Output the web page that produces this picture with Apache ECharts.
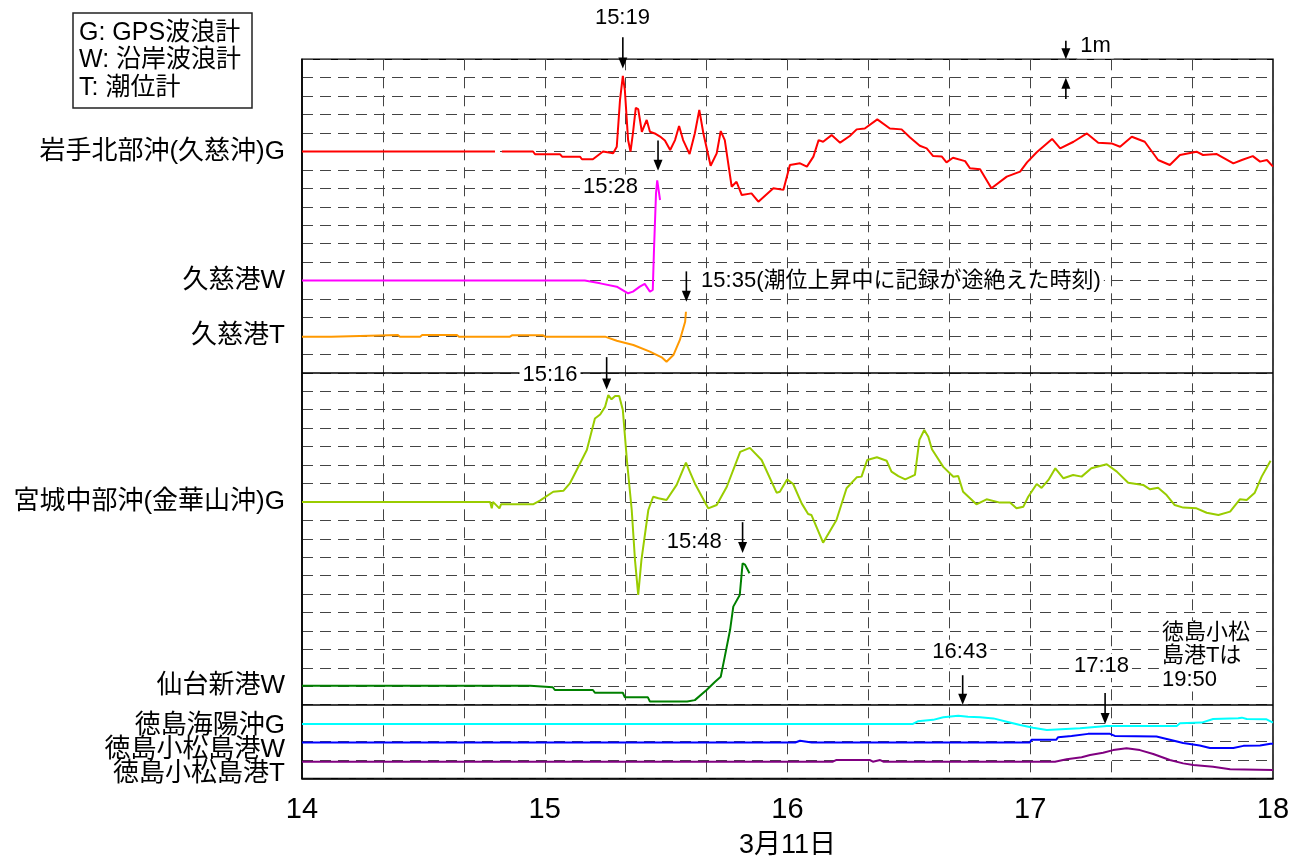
<!DOCTYPE html>
<html><head><meta charset="utf-8">
<script src="https://cdn.jsdelivr.net/npm/echarts@6.0.0/dist/echarts.min.js"></script>
<style>html,body{margin:0;padding:0;background:#fff}#c{width:1307px;height:861px}</style>
</head><body><div id="c"></div>
<script>
// ---------- data (x: minutes after 14:00 on 3/11, y: water level deviation in m) ----------
const xTickHours = [14, 15, 16, 17, 18];
const xAxisTitle = '3月11日';
const stationNames = ['岩手北部沖(久慈沖)G', '久慈港W', '久慈港T', '宮城中部沖(金華山沖)G', '仙台新港W', '徳島海陽沖G', '徳島小松島港W', '徳島小松島港T'];
const stationRows = [34, 27, 24, 15, 5, 3, 2, 1]; // baseline row of each record (1 row = 1 m)
const panelBreaks = [22, 4];

const iwateG = [[0,0],[47.7,0],[48.5,null],[49.4,0],[57.1,0],[57.6,-0.15],[63.8,-0.15],[64.3,-0.28],[68.7,-0.28],[69.2,-0.42],[71.9,-0.42],[74.4,0],[76.9,-0.1],[77.8,0.26],[78.6,2.79],[79.3,4.1],[79.8,3.33],[80.6,0.62],[81.2,0],[81.8,1.0],[82.5,2.36],[83.1,2.3],[84.0,1.07],[85.2,1.71],[86.0,1.07],[87.2,0.98],[88.5,0.81],[89.7,0.6],[91.0,0.08],[92.2,0.62],[93.2,1.38],[94.2,0.62],[95.8,-0.14],[97.1,0.99],[98.2,2.26],[99.2,0.99],[101.0,-0.77],[102.5,-0.1],[103.5,1.11],[104.5,0.62],[106.2,-1.91],[107.4,-1.64],[108.7,-2.36],[111.1,-2.27],[112.8,-2.72],[116.5,-1.99],[119.0,-2.08],[120.6,-0.73],[123.1,-0.64],[124.8,-0.82],[126.4,-0.28],[127.7,0.62],[128.8,0.53],[130.9,0.89],[133.0,0.48],[135.4,0.84],[137.1,1.2],[139.1,1.25],[142.2,1.74],[145.3,1.25],[148.2,1.2],[150.3,0.76],[152.7,0.31],[154.4,0.17],[156.0,-0.25],[158.1,-0.27],[159.3,-0.59],[160.9,-0.34],[163.9,-0.52],[165.1,-0.91],[167.6,-0.96],[170.4,-1.99],[174.2,-1.36],[177.5,-1.09],[179.2,-0.59],[181.6,-0.04],[185.4,0.68],[187.4,0.17],[190.7,0.53],[194.0,0.98],[196.8,0.48],[200.1,0.44],[202.2,0.26],[205.1,0.8],[208.3,0.53],[211.6,-0.46],[214.5,-0.73],[217.0,-0.19],[221.1,-0.01],[222.7,-0.19],[226.1,-0.14],[230.2,-0.64],[232.3,-0.46],[235.0,-0.25],[236.8,-0.55],[238.5,-0.46],[240.0,-0.82]];
const kujiW = [[0,0],[69.9,0],[73.7,-0.15],[77.8,-0.33],[80.6,-0.69],[81.8,-0.6],[83.5,-0.33],[84.7,-0.18],[86.0,-0.6],[86.7,-0.51],[87.0,1.66],[87.5,4.73],[87.8,5.43],[88.5,4.37]];
const kujiT = [[0,-0.04],[7.2,-0.04],[7.4,0.05],[23.7,0.05],[24.2,-0.04],[29.2,-0.04],[29.7,0.05],[38.3,0.05],[38.8,-0.04],[51.4,-0.04],[51.9,0.03],[59.6,0.03],[60.1,-0.04],[74.9,-0.04],[77.8,-0.26],[81.9,-0.49],[86.0,-0.85],[88.9,-1.16],[90.1,-1.4],[91.8,-1.04],[93.4,-0.22],[94.7,0.77],[94.9,1.31]];
const miyagiG = [[0,0],[46.5,0],[46.9,-0.35],[47.2,0],[48.8,-0.35],[49.2,-0.13],[57.1,-0.13],[58.8,0.07],[62.1,0.55],[64.6,0.6],[66.2,1.0],[67.9,1.73],[70.4,2.81],[72.4,4.52],[73.7,4.74],[74.9,5.15],[75.7,5.79],[76.5,5.56],[77.4,5.74],[78.4,5.74],[79.3,4.98],[80.3,2.27],[81.5,-0.44],[82.3,-3.14],[83.1,-5.04],[83.9,-3.14],[85.6,-0.44],[86.8,0.28],[88.1,0.2],[90.1,0.1],[92.6,0.92],[94.9,2.13],[97.1,1.0],[100.4,-0.35],[102.5,-0.17],[105.0,0.82],[108.3,2.71],[110.7,2.93],[113.6,2.27],[117.3,0.5],[118.1,0.55],[119.9,1.22],[121.4,0.97],[123.5,-0.08],[125.1,-0.66],[125.9,-0.71],[128.8,-2.21],[132.1,-0.98],[134.6,0.74],[137.1,1.33],[138.3,1.37],[139.7,2.27],[142.1,2.42],[144.5,2.23],[145.7,1.64],[147.4,1.4],[149.1,1.22],[151.5,1.46],[152.6,3.36],[153.8,3.9],[154.8,3.53],[155.7,2.85],[158.5,1.9],[161.0,1.36],[162.2,1.4],[163.4,0.55],[166.7,-0.13],[169.2,0.14],[172.5,-0.04],[175.0,-0.04],[176.6,-0.35],[178.3,-0.26],[179.5,0.28],[181.6,0.97],[182.8,0.76],[184.5,1.19],[186.2,1.82],[188.2,1.28],[190.6,1.46],[192.7,1.37],[195.1,1.82],[198.9,2.04],[201.4,1.64],[204.2,1.04],[207.9,0.92],[209.6,0.68],[211.6,0.77],[213.7,0.37],[215.7,-0.17],[217.8,-0.31],[221.1,-0.35],[223.6,-0.59],[226.5,-0.71],[229.4,-0.53],[231.8,0.14],[233.5,0.1],[235.5,0.5],[237.2,1.37],[239.4,2.23]];
const sendaiW = [[0,0.03],[56.4,0.03],[56.8,-0.05],[62.0,-0.05],[62.5,-0.2],[71.9,-0.2],[72.4,-0.35],[79.3,-0.35],[79.8,-0.6],[85.5,-0.6],[86.0,-0.83],[95.2,-0.83],[97.1,-0.75],[100.0,-0.2],[102.1,0.25],[103.5,0.52],[104.5,1.61],[105.8,3.05],[106.6,4.32],[108.2,4.95],[108.9,6.67],[109.5,6.6],[110.6,6.13]];
const kaiyoG = [[0,-0.04],[151.0,-0.04],[152.2,0.1],[156.0,0.18],[158.5,0.32],[162.2,0.4],[164.6,0.35],[167.6,0.32],[170.9,0.26],[174.2,0.08],[177.5,-0.1],[180.7,-0.25],[184.1,-0.37],[192.3,-0.28],[198.9,-0.15],[216.2,-0.15],[217.0,0.0],[222.4,0.03],[225.2,0.23],[231.4,0.27],[232.3,0.3],[233.5,0.23],[238.4,0.21],[240,0.03]];
const komatsuW = [[0,-0.05],[121.9,-0.05],[122.2,0.05],[123.1,0.05],[123.3,-0.05],[126.0,-0.05],[126.3,0.05],[126.8,-0.05],[179.9,-0.05],[180.3,0.1],[186.4,0.1],[186.9,0.24],[190.2,0.31],[194.3,0.42],[199.7,0.42],[200.9,0.31],[211.2,0.28],[214.5,0.1],[217.8,-0.08],[221.9,-0.21],[224.4,-0.35],[230.2,-0.35],[232.7,-0.23],[236.8,-0.21],[239.4,-0.12],[240,-0.12]];
const komatsuT = [[0,-0.09],[115.4,-0.09],[115.7,0],[115.9,-0.09],[131.2,-0.09],[132.0,0],[140.4,0],[141.1,-0.09],[142.9,0],[143.8,-0.09],[186.1,-0.09],[189.0,0.04],[192.7,0.15],[194.8,0.27],[198.0,0.4],[200.5,0.54],[203.8,0.64],[207.1,0.54],[210.4,0.33],[214.5,0],[217.8,-0.18],[220.3,-0.27],[225.2,-0.36],[229.4,-0.5],[240,-0.54]];
const records = [iwateG, kujiW, kujiT, miyagiG, sendaiW, kaiyoG, komatsuW, komatsuT];

// annotations: [text, minute, level, align]  and arrows: [minute, fromLevel, toLevel]
const noteTexts = [
  ['15:19', 79.2, 41.25, 'center'],
  ['15:28', 83.8, 32.1, 'right'],
  ['15:35(潮位上昇中に記録が途絶えた時刻)', 97.9, 27.0, 'left'],
  ['15:16', 61.3, 21.9, 'center'],
  ['15:48', 104.5, 12.85, 'right'],
  ['16:43', 162.6, 6.88, 'center'],
  ['17:18', 197.6, 6.1, 'center'],
  ['徳島小松\n島港Tは\n19:50', 211.8, 8.54, 'left'],
  ['1m', 191.6, 39.7, 'left']
];
const noteArrows = [[79.3,40.2,38.5],[88,34.6,32.95],[95,27.5,25.85],[75.3,22.85,21.1],[108.9,13.9,12.23],[163.3,5.6,4.0],[198.5,4.64,2.96],[188.8,40.0,39.0],[188.8,36.85,38.0]];
const keyLines = ['G: GPS波浪計', 'W: 沿岸波浪計', 'T: 潮位計'];

// ---------- styles ----------
const FONT = '"Liberation Sans", Arial, "Noto Sans CJK JP", sans-serif';
const colors = ['#ff0000', '#ff00ff', '#ff9900', '#99cc00', '#008000', '#00ffff', '#0000ff', '#800080'];
const labelShift = {3: 6, 2: 16, 1: 28}; // label nudges (px of top padding) for the crowded bottom rows

const labelMap = {};
stationRows.forEach((r, i) => { labelMap[r] = stationNames[i]; });

const chart = echarts.init(document.getElementById('c'), null, {renderer: 'canvas'});
const series = records.map((rec, i) => ({
  type: 'line',
  name: stationNames[i],
  data: rec.map(([t, d]) => [t, d === null ? '-' : stationRows[i] + d]),
  showSymbol: false,
  symbol: 'none',
  connectNulls: false,
  lineStyle: {color: colors[i], width: 2},
  itemStyle: {color: colors[i]},
  z: 3,
  animation: false
}));
series[0].markLine = {
  silent: true, symbol: 'none', animation: false,
  label: {show: false},
  lineStyle: {color: '#000', type: 'solid', width: 1.5},
  data: panelBreaks.map(v => ({yAxis: v}))
};

const richStyles = {n: {fontSize: 26, fontFamily: FONT, color: '#000'}};
Object.keys(labelShift).forEach(k => {
  richStyles['s' + k] = {fontSize: 26, fontFamily: FONT, color: '#000', padding: [labelShift[k], 0, 0, 0]};
});

chart.setOption({
  animation: false,
  backgroundColor: '#fff',
  grid: {left: 302, right: 34, top: 59.3, bottom: 82.5, show: true, borderColor: '#000', borderWidth: 1.5, containLabel: false, outerBoundsMode: 'none'},
  xAxis: {
    type: 'value', min: 0, max: 240, interval: 20,
    axisLine: {show: true, lineStyle: {color: '#000', width: 1.5}},
    axisTick: {show: false},
    splitLine: {show: true, lineStyle: {color: '#444', type: [11, 7], width: 1}},
    axisLabel: {
      margin: 17, color: '#000', fontSize: 29, fontFamily: FONT,
      formatter: v => (v % 60 === 0 && xTickHours.includes(14 + v / 60)) ? String(14 + v / 60) : ''
    },
    name: xAxisTitle, nameLocation: 'middle', nameGap: 54,
    nameTextStyle: {color: '#000', fontSize: 27, fontFamily: FONT}
  },
  yAxis: {
    type: 'value', min: 0, max: 39, interval: 1,
    axisLine: {show: true, lineStyle: {color: '#000', width: 1.5}},
    axisTick: {show: false},
    splitLine: {show: true, lineStyle: {color: '#444', type: [11, 7], width: 1}},
    axisLabel: {
      margin: 17, color: '#000', fontSize: 26, fontFamily: FONT,
      formatter: v => {
        const s = labelMap[v];
        if (!s) return '';
        return labelShift[v] ? '{s' + v + '|' + s + '}' : '{n|' + s + '}';
      },
      rich: richStyles
    }
  },
  series: series
});

// ---------- annotations ----------
const px = (t, v) => chart.convertToPixel({gridIndex: 0}, [t, v]);
const graphics = [];
noteArrows.forEach(([t, a, b]) => {
  const p1 = px(t, a), p2 = px(t, b);
  const dir = Math.sign(p2[1] - p1[1]);
  const head = 11, hw = 4.5;
  graphics.push({type: 'line', z: 20, shape: {x1: p1[0], y1: p1[1], x2: p2[0], y2: p2[1] - dir * head * 0.6}, style: {stroke: '#000', lineWidth: 1.6}});
  graphics.push({type: 'polygon', z: 20, shape: {points: [[p2[0], p2[1]], [p2[0] - hw, p2[1] - dir * head], [p2[0] + hw, p2[1] - dir * head]]}, style: {fill: '#000'}});
});
noteTexts.forEach(([txt, t, v, al]) => {
  const p = px(t, v);
  const multi = txt.indexOf('\n') >= 0;
  graphics.push({
    type: 'text', z: 15, x: p[0], y: p[1],
    style: {
      text: txt, fill: '#000', fontSize: 22, fontFamily: FONT,
      align: al, verticalAlign: multi ? 'top' : 'middle',
      lineHeight: multi ? 23.5 : 24,
      backgroundColor: '#fff', padding: [0, 3]
    }
  });
});
graphics.push({type: 'rect', z: 10, shape: {x: 73, y: 13, width: 179, height: 95}, style: {fill: '#fff', stroke: '#222', lineWidth: 1.5}});
graphics.push({
  type: 'text', z: 11, x: 79, y: 19,
  style: {text: keyLines.join('\n'), fill: '#000', fontSize: 25, fontFamily: FONT, lineHeight: 27.5, align: 'left', verticalAlign: 'top'}
});
chart.setOption({graphic: graphics});
</script>
</body></html>
